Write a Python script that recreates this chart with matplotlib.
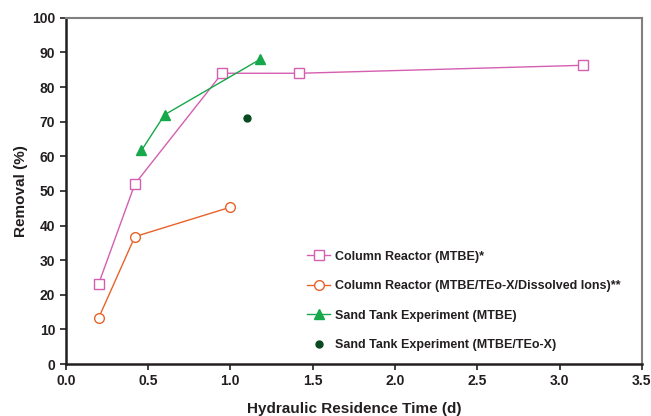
import matplotlib
matplotlib.use("Agg")
import matplotlib.pyplot as plt

plt.rcParams['font.family'] = ['Liberation Sans', 'DejaVu Sans']

cr_x = [0.2, 0.42, 0.95, 1.42, 3.14]
cr_y = [23.2, 52.0, 84.0, 84.0, 86.3]
cri_x = [0.2, 0.42, 1.0]
cri_y = [13.3, 36.8, 45.3]
st_x = [0.46, 0.6, 1.18]
st_y = [61.7, 72.0, 88.0]
stx_x = [1.1]
stx_y = [71.2]

fig = plt.figure(figsize=(6.51, 4.16), dpi=100)
ax = fig.add_axes([0.101, 0.125, 0.885, 0.832])

ax.plot(cr_x, cr_y, color='#d45fb0', lw=1.0, marker='s', ms=7, mfc='white', mec='#d45fb0', mew=1.0,
        label='Column Reactor (MTBE)*')
ax.plot(cri_x, cri_y, color='#e8622a', lw=1.0, marker='o', ms=7, mfc='white', mec='#e8622a', mew=1.0,
        label='Column Reactor (MTBE/TEo-X/Dissolved Ions)**')
ax.plot(st_x, st_y, color='#16a84a', lw=1.0, marker='^', ms=7, mfc='#16a84a', mec='#16a84a',
        label='Sand Tank Experiment (MTBE)')
ax.plot(stx_x, stx_y, color='#0a4a20', lw=0, marker='o', ms=5,
        label='Sand Tank Experiment (MTBE/TEo-X)')

ax.set_xlim(0, 3.5)
ax.set_ylim(0, 100)
ax.set_xticks([0.0, 0.5, 1.0, 1.5, 2.0, 2.5, 3.0, 3.5])
ax.set_xticklabels(['0.0', '0.5', '1.0', '1.5', '2.0', '2.5', '3.0', '3.5'])
ax.set_yticks(range(0, 101, 10))
for lbl in ax.get_xticklabels() + ax.get_yticklabels():
    lbl.set_fontweight('bold')
    lbl.set_fontsize(10)
    lbl.set_color('#231f20')
ax.tick_params(direction='out', length=4, width=1.2, colors='#231f20')

for s in ['left', 'bottom']:
    ax.spines[s].set_color('#231f20')
    ax.spines[s].set_linewidth(1.8)
for s in ['top', 'right']:
    ax.spines[s].set_color('#808080')
    ax.spines[s].set_linewidth(1.5)

ax.set_xlabel('Hydraulic Residence Time (d)', fontsize=11, fontweight='bold', color='#231f20', labelpad=10)
ax.set_ylabel('Removal (%)', fontsize=11, fontweight='bold', color='#231f20', labelpad=3)

leg = ax.legend(loc='lower left', bbox_to_anchor=(0.40, 0.005), frameon=False,
                prop={'weight': 'bold', 'size': 9}, labelspacing=1.4, handlelength=1.8, handletextpad=0.4)
for t in leg.get_texts():
    t.set_color('#231f20')

fig.savefig('out.png', dpi=100)
